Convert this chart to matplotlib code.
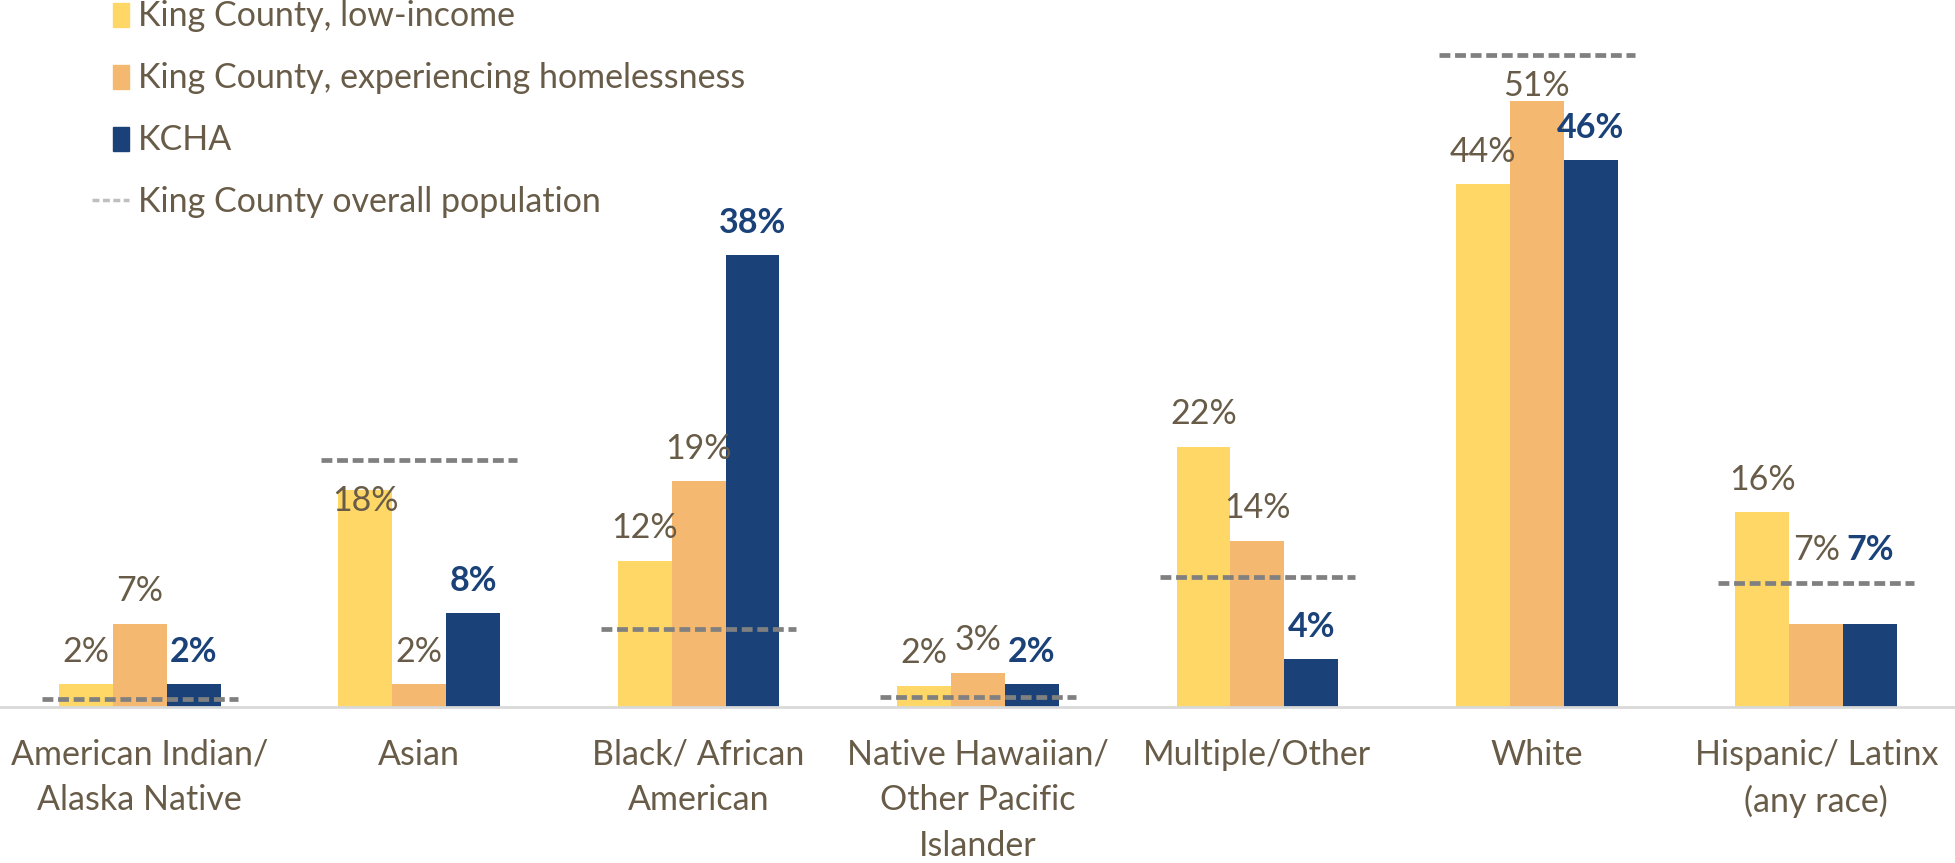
import numpy as np
import matplotlib
matplotlib.use('Agg')
import matplotlib.pyplot as plt
import matplotlib.patches as mpatches
from matplotlib.lines import Line2D
from matplotlib.legend_handler import HandlerPatch

plt.rcParams['font.family'] = ['Lato', 'DejaVu Sans']

# datos
categories = ['American Indian/\nAlaska Native', 'Asian', 'Black/ African\nAmerican',
              'Native Hawaiian/\nOther Pacific\nIslander', 'Multiple/Other', 'White',
              'Hispanic/ Latinx\n(any race)']
low_income = [1.9, 18.3, 12.3, 1.8, 21.9, 44, 16.4]
homeless = [7.0, 1.9, 19.0, 2.9, 14.0, 51, 7.0]
kcha = [1.9, 7.9, 38, 1.9, 4.0, 46, 7.0]
overall = [0.7, 20.8, 6.6, 0.8, 10.9, 54.9, 10.4]

series_names = ['King County, low-income', 'King County, experiencing homelessness', 'KCHA']
colors = ['#FED766', '#F5B870', '#1A4279']
text_color = '#685C48'
line_color = '#808080'
fs = 24.5

# ajustes de etiquetas (serie, categoria) -> desplazamiento en puntos
label_offset = 23.4
label_nudge = {(0, 1): -8.6, (1, 5): 10.8, (1, 6): 53, (2, 6): 53}

fig = plt.figure(figsize=(19.56, 8.63), dpi=100)
ax = fig.add_axes([0, 156 / 863, 1, 707 / 863])

x = np.arange(len(categories))
w = 0.193
for i, vals in enumerate([low_income, homeless, kcha]):
    xs = x + (i - 1) * w
    ax.bar(xs, vals, width=w, color=colors[i], label=series_names[i])
    for j, (xx, v) in enumerate(zip(xs, vals)):
        off = label_nudge.get((i, j), label_offset)
        ax.annotate(f'{v:.0f}%', (xx, v), xytext=(0, off), textcoords='offset points',
                    ha='center', va='center', fontsize=fs,
                    color=colors[2] if i == 2 else text_color,
                    fontweight='bold' if i == 2 else 'normal')

ax.hlines(overall, x - 0.35, x + 0.35, colors=line_color, lw=3.4,
          linestyles=(0, (2.3, 1.0)), zorder=3)

ax.set_xlim(-0.5, 6.5)
ax.set_ylim(0, 59.5)
ax.set_xticks(x)
ax.set_xticklabels(categories, fontsize=fs, color=text_color, linespacing=1.52)
ax.tick_params(axis='x', length=0, pad=23)
ax.set_yticks([])
for s in ['top', 'right', 'left']:
    ax.spines[s].set_visible(False)
ax.spines['bottom'].set_color('#D9D9D9')
ax.spines['bottom'].set_linewidth(2)


def square(legend, orig_handle, xdescent, ydescent, width, height, fontsize):
    sw = height * 0.7
    return mpatches.Rectangle((-xdescent + width - sw, -ydescent - height * 0.05), sw, height * 1.0)


handles = [mpatches.Patch(color=c) for c in colors]
handles.append(Line2D([], [], color='#BFBFBF', lw=2.5, linestyle=(0, (2, 1))))
labels = series_names + ['King County overall population']
leg = fig.legend(handles, labels, loc='upper left', bbox_to_anchor=(92 / 1956, 1.0),
                 frameon=False, fontsize=fs, labelcolor=text_color, handlelength=1.1,
                 handletextpad=0.25, labelspacing=0.88, borderpad=0, borderaxespad=0,
                 handler_map={mpatches.Patch: HandlerPatch(patch_func=square)})

plt.savefig('out.png', dpi=100)
